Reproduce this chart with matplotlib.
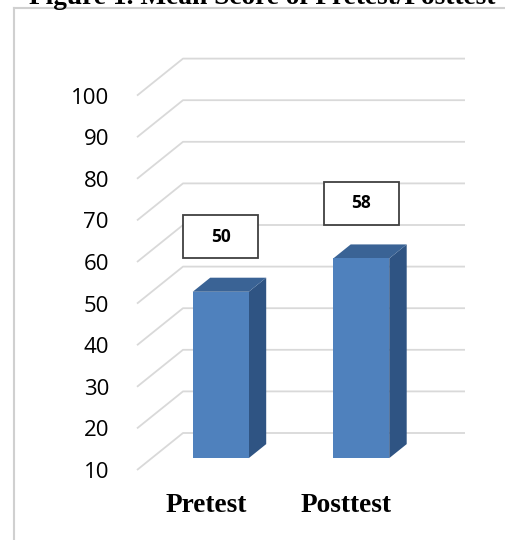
import matplotlib
matplotlib.use("Agg")
import matplotlib.pyplot as plt
from matplotlib.patches import Polygon, Rectangle
from matplotlib.lines import Line2D

# ---- data ----
categories = ["Pretest", "Posttest"]
mean_scores = [50, 58]
y_ticks = [10, 20, 30, 40, 50, 60, 70, 80, 90, 100]
title = "Figure 1. Mean Score of Pretest/Posttest"

# ---- styling ----
FRONT = "#4F81BD"
SIDE = "#2F5483"
TOP = "#3A6395"
GRID = "#d9d9d9"
FRAME = "#d0d0d0"

W, H, DPI = 505, 540, 100
fig = plt.figure(figsize=(W / DPI, H / DPI), dpi=DPI)
fig.patch.set_facecolor("white")

# front plane of the plot area (pixels from the top-left corner)
left_px, right_px = 137, 465
bottom_px, top_px = 470, 95.6
ax = fig.add_axes([left_px / W, 1 - bottom_px / H,
                   (right_px - left_px) / W, (bottom_px - top_px) / H])
ymin, ymax = y_ticks[0], y_ticks[-1]
ax.set_ylim(ymin, ymax)
px_per_cat = 140.5
xmin = -(206 - left_px) / px_per_cat
xmax = xmin + (right_px - left_px) / px_per_cat
ax.set_xlim(xmin, xmax)
px_per_unit = (bottom_px - top_px) / (ymax - ymin)

# depth of the 3-D box, in data units
dx = 46 / px_per_cat
dy = 37 / px_per_unit

# back wall gridlines with their receding side-wall segments
for v in y_ticks:
    ax.plot([xmin, xmin + dx, xmax], [v, v + dy, v + dy],
            color=GRID, lw=1.3, clip_on=False, zorder=1,
            solid_capstyle="butt")

# 3-D columns
f0, f1 = 0.32, 0.70
bar_w = 56 / px_per_cat
ddx, ddy = (f1 - f0) * dx, (f1 - f0) * dy
for i, v in enumerate(mean_scores):
    cx = i + f0 * dx
    base = ymin + f0 * dy
    top = v + f0 * dy
    x0, x1 = cx - bar_w / 2, cx + bar_w / 2
    ax.add_patch(Polygon([(x1, base), (x1 + ddx, base + ddy),
                          (x1 + ddx, top + ddy), (x1, top)],
                         closed=True, fc=SIDE, ec="none", zorder=3,
                         clip_on=False))
    ax.add_patch(Polygon([(x0, top), (x1, top), (x1 + ddx, top + ddy),
                          (x0 + ddx, top + ddy)],
                         closed=True, fc=TOP, ec="none", zorder=3,
                         clip_on=False))
    ax.add_patch(Rectangle((x0, base), bar_w, v - ymin, fc=FRONT,
                           ec="none", zorder=4, clip_on=False))

    # value label in a boxed callout above the column
    bw, bh = 75 / px_per_cat, 43 / px_per_unit
    ly = v + 16.1
    ax.add_patch(Rectangle((cx - bw / 2, ly - bh / 2), bw, bh, fc="white",
                           ec="#404040", lw=1.3, zorder=5, clip_on=False))
    ax.text(cx, ly, f"{v}", ha="center", va="center", zorder=6,
            fontfamily="Open Sans", fontweight="bold", fontsize=12.5,
            color="black")

# axes ticks and labels
ax.set_yticks(y_ticks)
ax.set_yticklabels([str(t) for t in y_ticks], fontfamily="Open Sans",
                   fontsize=16)
ax.tick_params(axis="y", length=0, pad=20.2, colors="black")
ax.set_xticks(range(len(categories)))
ax.set_xticklabels(categories, fontfamily="Liberation Serif",
                   fontweight="bold", fontsize=19.7)
ax.tick_params(axis="x", length=0, pad=16.5, colors="black")
for s in ax.spines.values():
    s.set_visible(False)
ax.set_facecolor("none")

# outer frame of the chart area
fig.add_artist(Line2D([14 / W, 14 / W], [0, 1 - 8 / H],
                      transform=fig.transFigure, color=FRAME, lw=1.5))
fig.add_artist(Line2D([14 / W, 1], [1 - 8 / H, 1 - 8 / H],
                      transform=fig.transFigure, color=FRAME, lw=1.5))

# figure caption
fig.text(262.5 / W, 1 - 4.5 / H, title, ha="center", va="baseline",
         fontfamily="Liberation Serif", fontweight="bold", fontsize=19.7,
         color="black")

fig.savefig("out.png", dpi=DPI, facecolor="white")
